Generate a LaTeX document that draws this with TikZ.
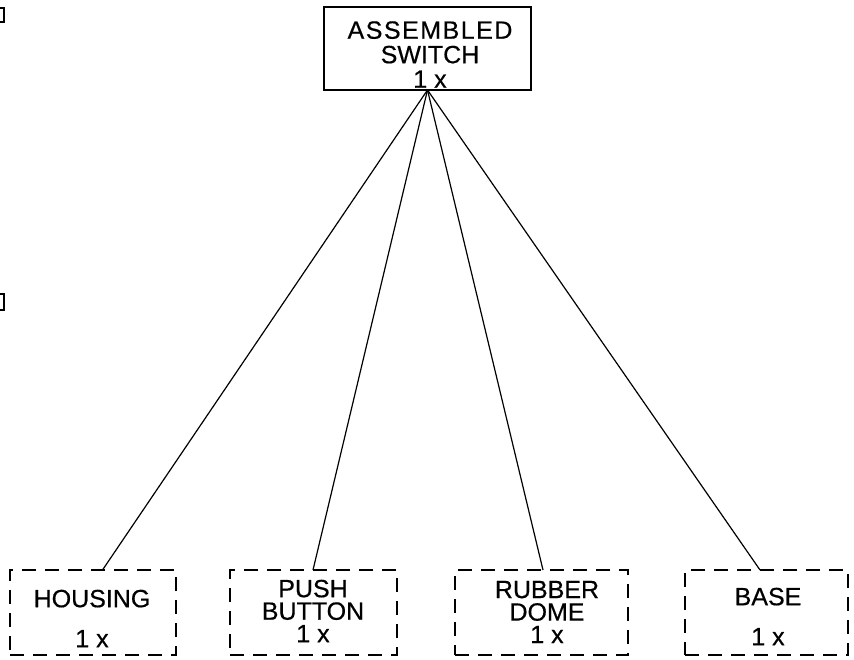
\documentclass[tikz,border=0pt]{standalone}
\usepackage{fontspec}
\setmainfont{Liberation Sans}[FakeBold=0.5]
\begin{document}
\begin{tikzpicture}[x=1pt,y=-1pt,
  solidbox/.style={draw, line width=2.2pt, inner sep=0pt, outer sep=0pt},
  dashbox/.style={draw, line width=2pt, dash pattern=on 14pt off 9pt, inner sep=0pt, outer sep=0pt, minimum height=85pt},
  lbl/.style={align=center, inner sep=0pt, outer sep=0pt},
  link/.style={line width=1.2pt},
  scanmark/.style={line width=2pt}]
\useasboundingbox (0,0) rectangle (854,660);
% boxes
\node[solidbox, minimum width=207pt, minimum height=83pt] (top) at (427.5,48.5) {};
\node[dashbox, minimum width=166pt] (housing) at (93,612.5) {};
\node[dashbox, minimum width=167pt] (push) at (313.5,612.5) {};
\node[dashbox, minimum width=173pt] (dome) at (541.5,612.5) {};
\node[dashbox, minimum width=163pt] (base) at (766.5,612.5) {};
% texts
\node[lbl, font=\fontsize{25}{24.5}\selectfont] (ttop) at (430,54.5) {{\addfontfeature{LetterSpace=6}ASSEMBLED}\\SWITCH\\1 x};
\node[lbl, font=\fontsize{25}{40}\selectfont] (thousing) at (92,618.5) {HOUSING\\1 x};
\node[lbl, font=\fontsize{25}{22.5}\selectfont] (tpush) at (313,611) {PUSH\\BUTTON\\1 x};
\node[lbl, font=\fontsize{25}{22.5}\selectfont] (tdome) at (547,612) {RUBBER\\DOME\\1 x};
\node[lbl, font=\fontsize{25}{40}\selectfont] (tbase) at (768,616.5) {BASE\\1 x};
% connectors
\draw[link] (top.south) -- ([xshift=9.5pt]housing.north);
\draw[link] (top.south) -- ([xshift=-0.5pt]push.north);
\draw[link] (top.south) -- ([xshift=1.5pt]dome.north);
\draw[link] (top.south) -- ([xshift=-6.5pt]base.north);
% scan marks at left edge
\draw[scanmark] (0,8) -- (4,8) -- (4,22) -- (0,22);
\draw[scanmark] (0,294) -- (4,294) -- (4,310) -- (0,310);
\end{tikzpicture}
\end{document}
